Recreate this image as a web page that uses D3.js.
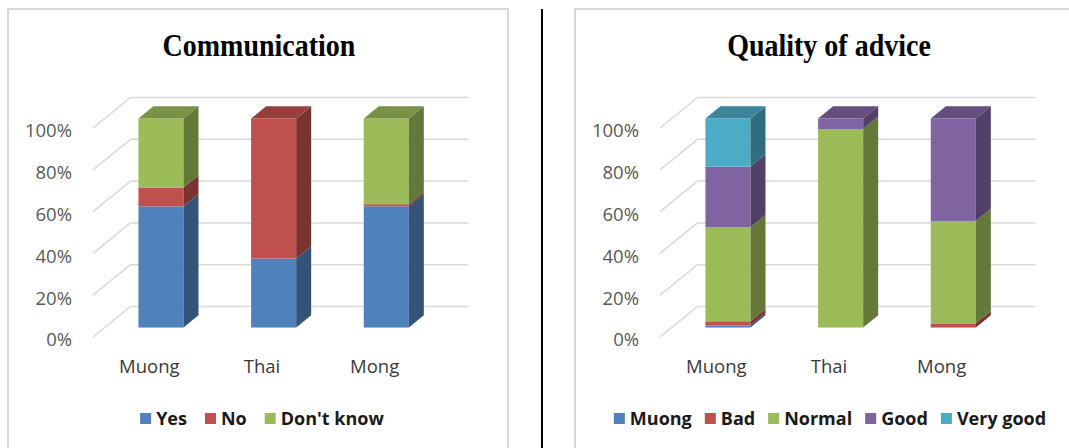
<!DOCTYPE html>
<html>
<head>
<meta charset="utf-8">
<script src="https://cdn.jsdelivr.net/npm/d3@7"></script>
<style>
  html, body { margin: 0; padding: 0; background: #fff; }
  svg { display: block; }
</style>
</head>
<body>
<svg id="chart" width="1069" height="448"></svg>
<script>
// ---------- data ----------
const categories = ["Muong", "Thai", "Mong"];
const yTicks = [0, 20, 40, 60, 80, 100];

const commTitle = "Communication";
const commSeries = ["Yes", "No", "Don't know"];
const commYes = [58, 33, 58];
const commNo = [9, 67, 1];
const commDontKnow = [33, 0, 41];

const adviceTitle = "Quality of advice";
const adviceSeries = ["Muong", "Bad", "Normal", "Good", "Very good"];
const adviceMuong = [1, 0, 0];
const adviceBad = [2, 0, 2];
const adviceNormal = [45, 95, 49];
const adviceGood = [29, 5, 49];
const adviceVeryGood = [23, 0, 0];

const commColors = ["#4F81BD", "#C0504D", "#9BBB59"];
const adviceColors = ["#4F81BD", "#C0504D", "#9BBB59", "#8064A2", "#4BACC6"];

// ---------- drawing ----------
const svg = d3.select("#chart");

// divider
svg.append("line").attr("x1", 542).attr("x2", 542).attr("y1", 9).attr("y2", 448)
  .attr("stroke", "#000").attr("stroke-width", 2);

function shade(c, k) {
  const r = d3.rgb(c);
  return d3.rgb(r.r * k, r.g * k, r.b * k).formatHex();
}

function drawPanel(cfg) {
  const g = svg.append("g").attr("transform", `translate(${cfg.ox},0)`);
  // frame
  g.append("rect").attr("x", 8).attr("y", 9).attr("width", cfg.frameW).attr("height", 500)
    .attr("fill", "none").attr("stroke", "#d9d9d9").attr("stroke-width", 2);

  // title
  g.append("text").attr("x", cfg.titleX).attr("y", 0)
    .attr("transform", `translate(0,56) scale(1,1.15)`)
    .attr("text-anchor", "middle")
    .attr("font-family", "'Liberation Serif', 'Times New Roman', serif")
    .attr("font-weight", "bold").attr("font-size", 28).attr("fill", "#000")
    .text(cfg.title);

  const depthX = 37.5, depthY = -30.5;
  const x = d3.scaleBand().domain(categories).range([93, 431]).paddingInner(0.6).paddingOuter(0.3);
  const y = d3.scaleLinear().domain([0, 100]).range([337, 128]);
  const backRight = 431 + depthX;

  // gridlines: left wall diagonals + back wall horizontals
  const grid = g.append("g").attr("stroke", "#d9d9d9").attr("stroke-width", 1.5).attr("fill", "none");
  yTicks.forEach(t => {
    grid.append("line").attr("x1", 93).attr("y1", y(t)).attr("x2", 93 + depthX).attr("y2", y(t) + depthY);
    grid.append("line").attr("x1", 93 + depthX).attr("y1", y(t) + depthY).attr("x2", backRight).attr("y2", y(t) + depthY);
  });

  // y tick labels
  const yAxis = d3.axisLeft(y).tickValues(yTicks).tickFormat(d => d + "%").tickSize(0).tickPadding(0);
  const ax = g.append("g").attr("transform", `translate(72,3)`).call(yAxis);
  ax.select(".domain").remove();
  ax.selectAll("text").attr("font-family", "'Open Sans', sans-serif").attr("font-size", 18.5)
    .attr("fill", "#595959");

  // category labels
  const xAxis = d3.axisBottom(x).tickSize(0).tickPadding(0);
  const cx = g.append("g").attr("transform", `translate(0,360)`).call(xAxis);
  cx.select(".domain").remove();
  cx.selectAll("text").attr("font-family", "'Open Sans', sans-serif").attr("font-size", 18.5)
    .attr("fill", "#3a3a3a");

  // bars
  const f0 = 0.31, f1 = 0.71;
  const bx0 = depthX * f0, by0 = depthY * f0;
  const bdx = depthX * (f1 - f0), bdy = depthY * (f1 - f0);
  const bars = g.append("g");
  categories.forEach((cat, i) => {
    let acc = 0;
    let lastTop = null;
    cfg.series.forEach((vals, s) => {
      const v = vals[i];
      if (v <= 0) return;
      const xl = x(cat) + bx0, xr = xl + x.bandwidth();
      const yb = y(acc) + by0, yt = y(acc + v) + by0;
      const col = cfg.colors[s];
      bars.append("rect").attr("x", xl).attr("y", yt).attr("width", xr - xl).attr("height", yb - yt)
        .attr("fill", col);
      bars.append("path")
        .attr("d", `M${xr},${yb}L${xr + bdx},${yb + bdy}L${xr + bdx},${yt + bdy}L${xr},${yt}Z`)
        .attr("fill", shade(col, 0.64));
      acc += v;
      lastTop = { xl, xr, yt, col };
    });
    if (lastTop) {
      const { xl, xr, yt, col } = lastTop;
      bars.append("path")
        .attr("d", `M${xl},${yt}L${xl + bdx},${yt + bdy}L${xr + bdx},${yt + bdy}L${xr},${yt}Z`)
        .attr("fill", shade(col, 0.78));
    }
  });

  // legend
  const lg = g.append("g");
  let cur = 0;
  cfg.names.forEach((n, s) => {
    const it = lg.append("g");
    it.append("rect").attr("x", 0).attr("y", -5).attr("width", 11).attr("height", 11).attr("fill", cfg.colors[s]);
    const t = it.append("text").attr("x", 16).attr("y", 6.5)
      .attr("font-family", "'Open Sans', sans-serif").attr("font-weight", "bold")
      .attr("font-size", 18).attr("fill", "#1a1a1a").text(n);
    const w = 16 + t.node().getComputedTextLength();
    it.attr("transform", `translate(${cur},0)`);
    cur += w + cfg.legendGap;
  });
  const total = cur - cfg.legendGap;
  lg.attr("transform", `translate(${cfg.legendCenter - total / 2},418)`);
}

drawPanel({
  ox: 0, frameW: 500, titleX: 259, title: commTitle,
  series: [commYes, commNo, commDontKnow], names: commSeries, colors: commColors,
  legendCenter: 262, legendGap: 18
});
drawPanel({
  ox: 567, frameW: 600, titleX: 262, title: adviceTitle,
  series: [adviceMuong, adviceBad, adviceNormal, adviceGood, adviceVeryGood], names: adviceSeries, colors: adviceColors,
  legendCenter: 263, legendGap: 13
});
</script>
</body>
</html>
